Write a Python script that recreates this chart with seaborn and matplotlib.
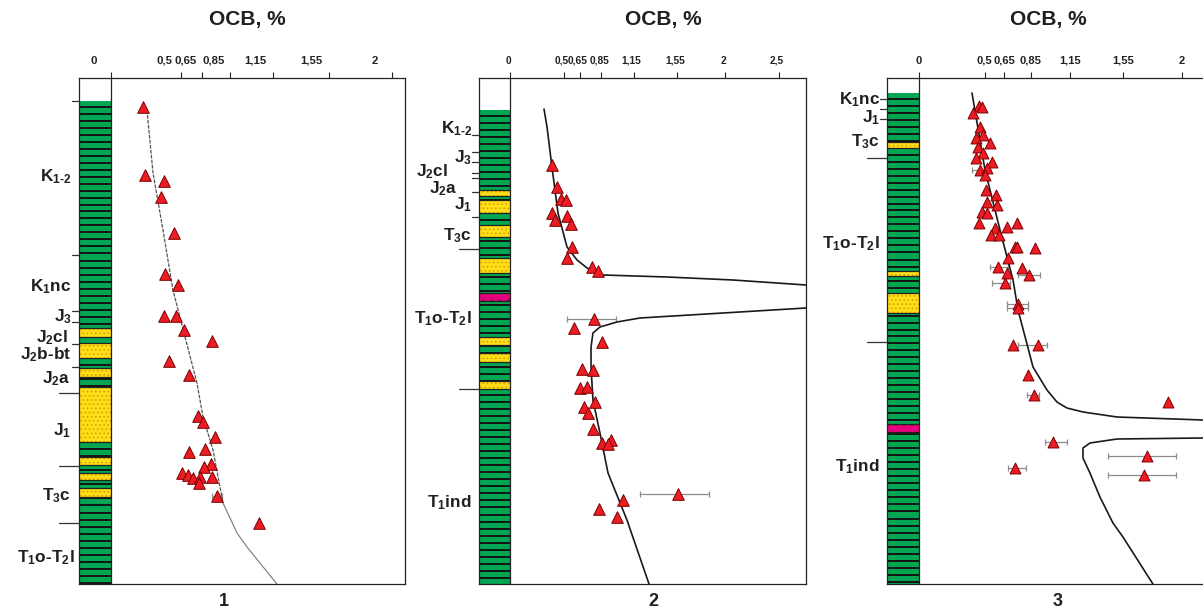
import numpy as np
import seaborn as sns
import matplotlib.pyplot as plt
from matplotlib.patches import Rectangle
from matplotlib import transforms

sns.set_theme(style='white')
plt.rcParams['font.family'] = ['Liberation Sans', 'DejaVu Sans']
plt.rcParams.update({
    'mathtext.fontset': 'custom',
    'mathtext.rm': 'Liberation Sans:bold',
    'mathtext.it': 'Liberation Sans:bold',
    'mathtext.bf': 'Liberation Sans:bold',
    'mathtext.sf': 'Liberation Sans:bold',
    'mathtext.default': 'rm',
    'hatch.linewidth': 0.6,
})

W, H = 1203, 610
DEPTH_MAX = 506

# ---------------- well 1 ----------------
w1_ocb = [0.228, 0.242, 0.377, 0.356, 0.448, 0.384, 0.477, 0.377, 0.463, 0.520,
          0.719, 0.413, 0.555, 0.619, 0.655, 0.740, 0.555, 0.669, 0.712, 0.662,
          0.505, 0.548, 0.584, 0.633, 0.626, 0.719, 0.754, 1.053]
w1_depth = [29, 97, 103, 119, 155, 196, 207, 238, 238, 252,
            263, 283, 297, 338, 344, 359, 374, 371, 386, 389,
            395, 397, 400, 399, 405, 399, 418, 445]
w1_err_x, w1_err_d, w1_err_lo, w1_err_hi = [0.754], [418], [0.719], [0.790]
w1_trend_ocb = [0.256, 0.299, 0.370, 0.441, 0.527, 0.612, 0.655, 0.726, 0.797]
w1_trend_depth = [32, 95, 152, 212, 259, 305, 339, 372, 425]
w1_trend2_ocb = [0.797, 0.897, 0.968, 1.181]
w1_trend2_depth = [425, 455, 469, 506]
w1_green_top = 23
w1_sand_top = [250, 265, 290, 309, 379, 395, 410]
w1_sand_bot = [259, 280, 299, 364, 387, 402, 419]
w1_tuff_top, w1_tuff_bot = [], []
w1_bound_short = [23, 177, 233, 244, 266, 289]
w1_bound_long = [315, 388, 445]
w1_units = [r'K$_{1\text{-}2}$', r'K$_1$nc', r'J$_3$', r'J$_2$cl', r'J$_2$b-bt',
            r'J$_2$a', r'J$_1$', r'T$_3$c', r'T$_1$o-T$_2$l']
w1_unit_depth = [103, 213, 243, 264, 281, 305, 357, 422, 484]

# ---------------- well 2 ----------------
w2_ocb = [0.390, 0.437, 0.474, 0.520, 0.390, 0.418, 0.530, 0.567, 0.576, 0.530,
          0.762, 0.818, 0.781, 0.595, 0.855, 0.669, 0.771, 0.651, 0.716, 0.790,
          0.688, 0.725, 0.771, 0.855, 0.939, 0.911, 1.561, 1.050, 0.827, 0.994]
w2_depth = [87, 109, 121, 122, 135, 142, 138, 146, 169, 180,
            189, 193, 241, 250, 264, 291, 292, 310, 309, 324,
            329, 335, 351, 365, 362, 366, 416, 422, 431, 439]
w2_err_x, w2_err_d = [0.781, 1.561], [241, 416]
w2_err_lo, w2_err_hi = [0.530, 1.208], [0.985, 1.849]
w2_upper_ocb = [0.316, 0.344, 0.390, 0.446, 0.530, 0.623, 0.716, 0.864, 1.459, 2.072, 2.751]
w2_upper_depth = [31, 49, 89, 135, 169, 182, 190, 197, 199, 202, 207]
w2_lower_ocb = [2.751, 1.208, 0.994, 0.836, 0.771, 0.753, 0.753, 0.771, 0.836, 0.911, 1.087, 1.292]
w2_lower_depth = [230, 240, 244, 249, 255, 269, 289, 322, 355, 395, 442, 506]
w2_green_top = 32
w2_sand_top = [112, 122, 147, 180, 259, 275, 303]
w2_sand_bot = [118, 135, 159, 195, 267, 284, 311]
w2_tuff_top, w2_tuff_bot = [215], [223]
w2_bound_short = [57, 74, 84, 95, 100, 114, 139]
w2_bound_long = [171, 311]
w2_units = [r'K$_{1\text{-}2}$', r'J$_3$', r'J$_2$cl', r'J$_2$a', r'J$_1$',
            r'T$_3$c', r'T$_1$o-T$_2$l', r'T$_1$ind']
w2_unit_depth = [55, 84, 98, 115, 131, 162, 245, 429]

# ---------------- well 3 ----------------
w3_ocb = [0.456, 0.479, 0.411, 0.464, 0.487, 0.433, 0.540, 0.449, 0.487, 0.433,
          0.555, 0.464, 0.517, 0.502, 0.510, 0.586, 0.517, 0.593, 0.479, 0.517,
          0.456, 0.578, 0.669, 0.745, 0.548, 0.608, 0.730, 0.745, 0.882, 0.677,
          0.601, 0.783, 0.669, 0.837, 0.654, 0.753, 0.753, 0.715, 0.905, 0.829,
          0.875, 1.894, 1.019, 1.734, 1.711, 0.730]
w3_depth = [28, 29, 35, 49, 57, 60, 65, 69, 75, 80,
            84, 92, 90, 97, 112, 117, 124, 127, 134, 135,
            145, 150, 149, 145, 157, 157, 169, 169, 170, 180,
            189, 190, 195, 197, 205, 226, 230, 267, 267, 297,
            317, 324, 364, 378, 397, 390]
w3_err_x = [0.464, 0.601, 0.837, 0.654, 0.753, 0.753, 0.905, 0.875, 1.019, 1.734, 1.711, 0.730]
w3_err_d = [92, 189, 197, 205, 226, 230, 267, 317, 364, 378, 397, 390]
w3_err_lo = [0.403, 0.540, 0.753, 0.555, 0.669, 0.669, 0.753, 0.821, 0.958, 1.437, 1.437, 0.677]
w3_err_hi = [0.540, 0.677, 0.920, 0.692, 0.829, 0.829, 0.973, 0.913, 1.125, 1.954, 1.954, 0.814]
w3_upper_ocb = [0.403, 0.502, 0.616, 0.715, 0.753, 0.867, 0.973, 1.049, 1.125, 1.247, 1.506, 2.160]
w3_upper_depth = [15, 92, 152, 202, 232, 289, 312, 324, 330, 334, 339, 342]
w3_lower_ocb = [2.160, 1.506, 1.300, 1.247, 1.247, 1.300, 1.376, 1.475, 1.551, 1.779]
w3_lower_depth = [360, 361, 365, 370, 380, 395, 419, 445, 459, 506]
w3_green_top = 15
w3_sand_top = [64, 193, 215]
w3_sand_bot = [70, 198, 235]
w3_tuff_top, w3_tuff_bot = [346], [354]
w3_bound_short = [21, 31, 41]
w3_bound_long = [80, 264]
w3_units = [r'K$_1$nc', r'J$_1$', r'T$_3$c', r'T$_1$o-T$_2$l', r'T$_1$ind']
w3_unit_depth = [26, 44, 68, 170, 393]

tick_vals = [0, 0.5, 0.65, 0.85, 1.15, 1.55, 2]
tick_text = ['0', '0,5', '0,65', '0,85', '1,15', '1,55', '2']

# layout (pixel based)
layouts = [
    dict(box=(79, 78, 405, 584), zero=111, scale=140.5, lab_shift=-17, title_x=247,
         num_x=224, num='1', unit_right=[71, 71, 72, 68, 71, 71, 71, 71, 75],
         right_spine=True, ticks=tick_vals, ticklabels=tick_text, dashed=True, tsize=8.2),
    dict(box=(479, 78, 806, 584), zero=510, scale=107.6, lab_shift=-2, title_x=663,
         num_x=653, num='2', unit_right=[472, 472, 448, 458, 472, 472, 472, 472],
         right_spine=True, ticks=tick_vals + [2.5], ticklabels=tick_text + ['2,5'], dashed=False,
         tsize=7.3),
    dict(box=(887, 78, 1203, 584), zero=919, scale=131.5, lab_shift=0, title_x=1048,
         num_x=1058, num='3', unit_right=[880, 880, 880, 880, 880],
         right_spine=False, ticks=tick_vals, ticklabels=tick_text, dashed=False, tsize=8.0),
]

wells = [
    dict(ocb=w1_ocb, depth=w1_depth, ex=w1_err_x, ed=w1_err_d, elo=w1_err_lo, ehi=w1_err_hi,
         curves=[(w1_trend_ocb, w1_trend_depth), (w1_trend2_ocb, w1_trend2_depth)],
         green_top=w1_green_top, sand=(w1_sand_top, w1_sand_bot), tuff=(w1_tuff_top, w1_tuff_bot),
         bs=w1_bound_short, bl=w1_bound_long, units=w1_units, unit_depth=w1_unit_depth),
    dict(ocb=w2_ocb, depth=w2_depth, ex=w2_err_x, ed=w2_err_d, elo=w2_err_lo, ehi=w2_err_hi,
         curves=[(w2_upper_ocb, w2_upper_depth), (w2_lower_ocb, w2_lower_depth)],
         green_top=w2_green_top, sand=(w2_sand_top, w2_sand_bot), tuff=(w2_tuff_top, w2_tuff_bot),
         bs=w2_bound_short, bl=w2_bound_long, units=w2_units, unit_depth=w2_unit_depth),
    dict(ocb=w3_ocb, depth=w3_depth, ex=w3_err_x, ed=w3_err_d, elo=w3_err_lo, ehi=w3_err_hi,
         curves=[(w3_upper_ocb, w3_upper_depth), (w3_lower_ocb, w3_lower_depth)],
         green_top=w3_green_top, sand=(w3_sand_top, w3_sand_bot), tuff=(w3_tuff_top, w3_tuff_bot),
         bs=w3_bound_short, bl=w3_bound_long, units=w3_units, unit_depth=w3_unit_depth),
]

GREEN = '#00A651'
YELLOW = '#FFDE17'
MAGENTA = '#E6007E'
RED = '#ED1C24'

fig = plt.figure(figsize=(W / 100, H / 100), dpi=100)

for lay, well in zip(layouts, wells):
    l, t, r, b = lay['box']
    ax = fig.add_axes([l / W, 1 - b / H, (r - l) / W, (b - t) / H])
    x0 = (l - lay['zero']) / lay['scale']
    x1 = (r - lay['zero']) / lay['scale']
    ax.set_xlim(x0, x1)
    ax.set_ylim(DEPTH_MAX, 0)
    ax.set_facecolor('white')

    # lithological column
    gt = well['green_top']
    ax.add_patch(Rectangle((x0, gt), -x0, DEPTH_MAX - gt, facecolor=GREEN, edgecolor='none', zorder=1))
    ax.hlines(np.arange(gt + 5.5, DEPTH_MAX, 7), x0, 0, colors='#141414', lw=1.4, zorder=1.1)
    for s0, s1 in zip(*well['sand']):
        ax.add_patch(Rectangle((x0, s0), -x0, s1 - s0, facecolor=YELLOW, edgecolor='#D29A00',
                               hatch='....', lw=0, zorder=1.2))
        ax.hlines([s0, s1], x0, 0, colors='#222', lw=0.9, zorder=1.3)
    for s0, s1 in zip(*well['tuff']):
        ax.add_patch(Rectangle((x0, s0), -x0, s1 - s0, facecolor=MAGENTA, edgecolor='#8a0050',
                               hatch='..', lw=0, zorder=1.2))
        ax.hlines([s0, s1], x0, 0, colors='#222', lw=0.9, zorder=1.3)
    ax.axvline(0, color='#222', lw=0.9, zorder=1.4)

    # error bars
    ex = np.array(well['ex'])
    ax.errorbar(ex, well['ed'], xerr=[ex - np.array(well['elo']), np.array(well['ehi']) - ex],
                fmt='none', ecolor='#8c8c8c', elinewidth=0.9, capsize=2.2, capthick=0.9, zorder=2)

    # trend curves
    for i, (cx, cy) in enumerate(well['curves']):
        if lay['dashed']:
            if i == 0:
                sns.lineplot(x=cx, y=cy, sort=False, estimator=None, ax=ax, color='#555555',
                             lw=0.9, linestyle=(0, (3, 1)), zorder=2.5)
            else:
                sns.lineplot(x=cx, y=cy, sort=False, estimator=None, ax=ax, color='#777777',
                             lw=0.8, zorder=2.5)
        else:
            sns.lineplot(x=cx, y=cy, sort=False, estimator=None, ax=ax, color='#1a1a1a',
                         lw=1.2, zorder=2.5)

    sns.scatterplot(x=well['ocb'], y=well['depth'], ax=ax, marker='^', s=70 if lay['num'] != '3' else 62,
                    color=RED, edgecolor='#7a0000', linewidth=0.7, zorder=3)

    ax.set_xlabel('')
    ax.set_ylabel('')
    ax.set_yticks([])
    ax.xaxis.tick_top()
    ax.set_xticks(lay['ticks'])
    ax.set_xticklabels(lay['ticklabels'], fontsize=lay['tsize'], fontweight='bold',
                       family=['Liberation Sans Narrow', 'Liberation Sans'])
    ax.tick_params(axis='x', top=True, bottom=False, direction='out', length=4.5, width=0.8,
                   pad=4.5, colors='#222')
    if lay['lab_shift']:
        off = transforms.ScaledTranslation(lay['lab_shift'] / 100, 0, fig.dpi_scale_trans)
        for lab in ax.get_xticklabels():
            lab.set_transform(lab.get_transform() + off)
    for name, sp in ax.spines.items():
        sp.set_color('#222')
        sp.set_linewidth(0.9)
    ax.spines['right'].set_visible(lay['right_spine'])

    # stratigraphic labels and boundary marks
    trans = transforms.blended_transform_factory(fig.transFigure, ax.transData)
    for d in well['bs']:
        ax.plot([(l - 7) / W, l / W], [d, d], transform=trans, clip_on=False, color='#333', lw=0.9)
    for d in well['bl']:
        ax.plot([(l - 20) / W, l / W], [d, d], transform=trans, clip_on=False, color='#333', lw=0.9)
    for txt, d, xr in zip(well['units'], well['unit_depth'], lay['unit_right']):
        ax.text(xr / W, d, txt, transform=trans, ha='right', va='baseline',
                fontsize=12.4, fontweight='bold', color='#231f20')

    fig.text(lay['title_x'] / W, 1 - 20 / H, 'OCB, %', ha='center', va='center',
             fontsize=15, fontweight='bold', color='#231f20')
    fig.text(lay['num_x'] / W, 1 - 601 / H, lay['num'], ha='center', va='center',
             fontsize=13, fontweight='bold', color='#231f20')

fig.savefig('out.png', dpi=100)
